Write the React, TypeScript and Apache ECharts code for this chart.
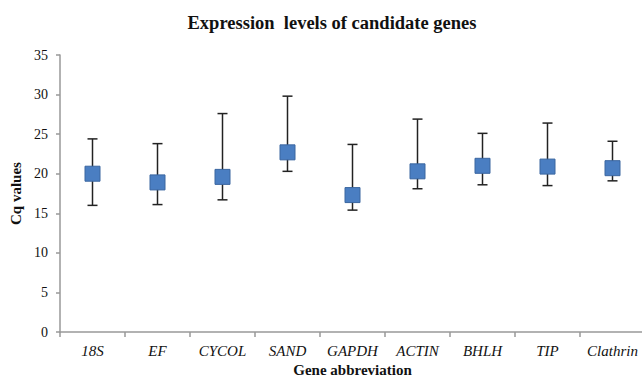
import React, { useEffect, useRef } from "react";
import * as echarts from "echarts";

const categories = ["18S", "EF", "CYCOL", "SAND", "GAPDH", "ACTIN", "BHLH", "TIP", "Clathrin"];
const means = [20.0, 18.9, 19.6, 22.7, 17.3, 20.3, 21.0, 20.9, 20.7];
const lows = [16.0, 16.1, 16.7, 20.3, 15.4, 18.1, 18.6, 18.5, 19.1];
const highs = [24.4, 23.8, 27.6, 29.8, 23.7, 26.9, 25.1, 26.4, 24.1];
const yTicks = { min: 0, max: 35, interval: 5 };

const serif = "'Liberation Serif', 'Times New Roman', serif";

export default function App() {
  const ref = useRef<HTMLDivElement>(null);
  useEffect(() => {
    if (!ref.current) return;
    const chart = echarts.init(ref.current, null, { renderer: "svg" });
    const errData = categories.map((c, i) => [i, lows[i], highs[i]]);
    chart.setOption({
      animation: false,
      backgroundColor: "#ffffff",
      title: {
        text: "Expression  levels of candidate genes",
        left: 327,
        textAlign: "center",
        top: 8,
        textStyle: { fontFamily: serif, fontSize: 18.5, fontWeight: "bold", color: "#111" },
      },
      grid: { left: 60, right: -3, top: 55, bottom: 45, outerBoundsMode: "none", containLabel: false },
      xAxis: {
        type: "category",
        data: categories,
        boundaryGap: true,
        name: "Gene abbreviation",
        nameLocation: "middle",
        nameGap: 27,
        nameTextStyle: { fontFamily: serif, fontSize: 15, fontWeight: "bold", color: "#111" },
        axisLine: { lineStyle: { color: "#999", width: 1.5 } },
        axisTick: { show: true, interval: 0, length: 5, lineStyle: { color: "#999", width: 1.5 } },
        axisLabel: { interval: 0, fontFamily: serif, fontSize: 15, fontStyle: "italic", color: "#111", margin: 11 },
        splitLine: { show: false },
      },
      yAxis: {
        type: "value",
        min: yTicks.min,
        max: yTicks.max,
        interval: yTicks.interval,
        name: "Cq values",
        nameLocation: "middle",
        nameGap: 33,
        nameTextStyle: { fontFamily: serif, fontSize: 15, fontWeight: "bold", color: "#111" },
        axisLine: { show: true, lineStyle: { color: "#999", width: 1.5 } },
        axisTick: { show: true, length: 4, lineStyle: { color: "#999", width: 1.5 } },
        axisLabel: { fontFamily: serif, fontSize: 14, color: "#111", margin: 12 },
        splitLine: { show: false },
      },
      series: [
        {
          type: "custom",
          data: errData,
          z: 1,
          renderItem: (params: any, api: any) => {
            const x = api.value(0);
            const lo = api.coord([x, api.value(1)]);
            const hi = api.coord([x, api.value(2)]);
            const cap = 5;
            const style = { stroke: "#222", lineWidth: 1.5 };
            return {
              type: "group",
              children: [
                { type: "line", shape: { x1: lo[0], y1: lo[1], x2: hi[0], y2: hi[1] }, style },
                { type: "line", shape: { x1: hi[0] - cap, y1: hi[1], x2: hi[0] + cap, y2: hi[1] }, style },
                { type: "line", shape: { x1: lo[0] - cap, y1: lo[1], x2: lo[0] + cap, y2: lo[1] }, style },
              ],
            };
          },
        },
        {
          type: "scatter",
          data: means,
          symbol: "rect",
          symbolSize: 15,
          z: 2,
          itemStyle: { color: "#4A7EC2", borderColor: "#3A66A0", borderWidth: 1, opacity: 1 },
        },
      ],
    });
    return () => chart.dispose();
  }, []);
  return (
    <div
      ref={ref}
      style={{ position: "fixed", left: 0, top: 0, width: 642, height: 377, background: "#fff" }}
    />
  );
}
